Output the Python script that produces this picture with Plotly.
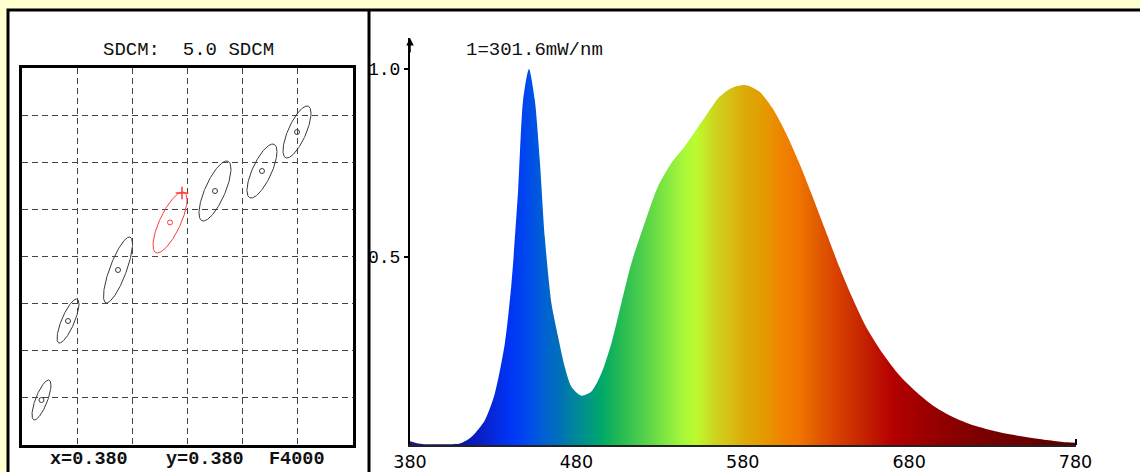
import numpy as np
import plotly.graph_objects as go

# ---------------- spectrum (relative spectral power) ----------------
wavelength_nm = [380, 385, 390, 400, 410, 417, 425, 431, 437, 441, 445, 448, 451.5, 455,
                 458, 461, 465, 469, 473, 477, 483, 489, 495, 501, 507, 513, 521, 529,
                 537, 545, 557, 566, 574, 582, 590, 598, 606, 614, 622, 630, 638, 646,
                 654, 664, 674, 684, 694, 706, 718, 735, 755, 775, 780]
relative_power = [0.010, 0.004, 0.002, 0.002, 0.004, 0.022, 0.066, 0.137, 0.270, 0.430,
                  0.678, 0.918, 1.000, 0.918, 0.758, 0.554, 0.377, 0.288, 0.208, 0.155,
                  0.131, 0.142, 0.190, 0.270, 0.377, 0.483, 0.590, 0.687, 0.749, 0.793,
                  0.870, 0.926, 0.951, 0.957, 0.940, 0.895, 0.829, 0.749, 0.660, 0.567,
                  0.474, 0.390, 0.315, 0.244, 0.186, 0.142, 0.106, 0.075, 0.053, 0.033,
                  0.018, 0.007, 0.006]

x_tick_vals = [380, 480, 580, 680, 780]
x_tick_text = ["380", "480", "580", "680", "780"]
y_tick_vals = [0.5, 1.0]
y_tick_text = ["0.5", "1.0"]

# spectral colour stops (wavelength -> colour), style for the fill gradient
color_wl = [380, 400, 420, 440, 450, 460, 470, 480, 488, 495, 505, 515, 525, 535, 545,
            552, 562, 572, 582, 592, 604, 614, 624, 634, 646, 658, 670, 682, 700, 730, 780]
color_hex = ["#1a1a80", "#0a1090", "#0a1cc0", "#0034f6", "#0048ee", "#0060d4", "#0070b8",
             "#008898", "#009882", "#00a86a", "#20b854", "#40c850", "#62d846", "#86ea40",
             "#aaf838", "#bcfb30", "#ccd820", "#d6c014", "#dcaa06", "#e49c00", "#f08200",
             "#f07400", "#e25e00", "#dc4600", "#cc3000", "#c01800", "#b40000", "#a60000",
             "#900000", "#760000", "#5a0000"]

# ---------------- SDCM ellipses (chromaticity) ----------------
ellipse_cx = [0.35353, 0.35834, 0.36740, 0.37683, 0.38498, 0.39350, 0.39985]
ellipse_cy = [0.34955, 0.36631, 0.37714, 0.38722, 0.39390, 0.39814, 0.40642]
ellipse_dx = [0.00172, 0.00199, 0.00263, 0.00308, 0.00290, 0.00272, 0.00254]
ellipse_dy = [0.00424, 0.00467, 0.00700, 0.00647, 0.00637, 0.00573, 0.00552]
ellipse_phase_deg = [42, 39, 38, 42, 43, 44, 44]
ellipse_is_reference = [False, False, False, True, False, False, False]
test_x = [0.37900]
test_y = [0.39347]

W, H = 1140, 472
fig = go.Figure()

# ellipses and their centres
t = np.linspace(0, 2 * np.pi, 181)
for cx, cy, dx, dy, ph, ref in zip(ellipse_cx, ellipse_cy, ellipse_dx, ellipse_dy,
                                   ellipse_phase_deg, ellipse_is_reference):
    col = "#ff3a3a" if ref else "#3a3a3a"
    fig.add_trace(go.Scatter(x=cx + dx * np.cos(t), y=cy + dy * np.cos(t - np.radians(ph)),
                             mode="lines", line=dict(color=col, width=1),
                             xaxis="x", yaxis="y", hoverinfo="skip"))
    fig.add_trace(go.Scatter(x=[cx], y=[cy], mode="markers",
                             marker=dict(symbol="circle-open", size=5, color=col,
                                         line=dict(width=1, color=col)),
                             xaxis="x", yaxis="y"))
fig.add_trace(go.Scatter(x=test_x, y=test_y, mode="markers",
                         marker=dict(symbol="cross-thin", size=9,
                                     line=dict(width=1.5, color="#ff3a3a")),
                         xaxis="x", yaxis="y"))

# spectrum
colorscale = [[(w - 380) / 400.0, c] for w, c in zip(color_wl, color_hex)]
fig.add_trace(go.Scatter(x=wavelength_nm, y=relative_power, mode="lines",
                         line=dict(width=0.5, color="rgba(0,0,0,0)", shape="spline", smoothing=0.7),
                         fill="tozeroy",
                         fillgradient=dict(type="horizontal", colorscale=colorscale,
                                           start=380, stop=780),
                         xaxis="x2", yaxis="y2"))

px = lambda v: v / W
py = lambda v: 1 - v / H

grid_common = dict(showgrid=True, gridcolor="#444444", gridwidth=1, griddash="6px,4px",
                   showline=True, mirror=True, linecolor="black", linewidth=2.5,
                   showticklabels=False, ticks="", zeroline=False, fixedrange=True,
                   automargin=False)

fig.update_layout(
    template="none",
    width=W, height=H, autosize=False,
    margin=dict(l=0, r=0, t=0, b=0, pad=0, autoexpand=False),
    paper_bgcolor="#ffffd0", plot_bgcolor="white", showlegend=False,
    xaxis=dict(domain=[px(22), px(353)], range=[0.35, 0.41], tick0=0.35, dtick=0.01,
               anchor="y", **grid_common),
    yaxis=dict(domain=[py(445), py(68)], range=[0.34, 0.42], tick0=0.34, dtick=0.01,
               anchor="x", **grid_common),
    xaxis2=dict(domain=[px(410), px(1075.5)], range=[380, 780], anchor="y2",
                tickmode="array", tickvals=x_tick_vals, ticktext=x_tick_text, ticks="",
                tickfont=dict(family="DejaVu Sans", size=17.5, color="black"),
                showline=True, linecolor="#222222", linewidth=1.5, showgrid=False,
                zeroline=False, fixedrange=True, automargin=False,
                minor=dict(tickmode="array", tickvals=[780], ticks="inside", ticklen=6,
                           tickwidth=1.5, tickcolor="black", showgrid=False)),
    yaxis2=dict(domain=[py(445), py(38)], range=[0, 1.0824], anchor="x2",
                tickmode="array", tickvals=y_tick_vals, ticktext=y_tick_text,
                ticks="outside", ticklen=4, tickwidth=2, tickcolor="black",
                tickfont=dict(family="Liberation Mono", size=18, color="black"),
                showline=True, linecolor="black", linewidth=2, showgrid=False,
                zeroline=False, fixedrange=True, automargin=False),
)

# frame
fig.add_shape(type="rect", xref="paper", yref="paper", x0=px(8), x1=1.05, y0=-0.05, y1=py(10),
              fillcolor="white", line=dict(color="black", width=3), layer="below")
fig.add_shape(type="line", xref="paper", yref="paper", x0=px(369), x1=px(369), y0=-0.05, y1=py(10),
              line=dict(color="black", width=3))

mono = "Liberation Mono"
def label(x, y, text, size=19, xanchor="center"):
    fig.add_annotation(x=px(x), y=py(y), xref="paper", yref="paper", showarrow=False,
                       xanchor=xanchor, yanchor="middle", text=text,
                       font=dict(family=mono, size=size, color="#111111"))

label(188, 50, "SDCM:  5.0 SDCM")
label(89, 459, "<b>x=0.380</b>", 18.5)
label(204.5, 459, "<b>y=0.380</b>", 18.5)
label(297, 459, "<b>F4000</b>", 18.5)
label(464, 50, "1=301.6mW/nm", 19, "left")
# arrow head on the spectrum's vertical axis
fig.add_annotation(x=380, y=1.0824, xref="x2", yref="y2", text="", showarrow=True,
                   ax=0, ay=16, arrowhead=2, arrowsize=1, arrowwidth=1.5, arrowcolor="black")

fig.write_html("out.html", config={"responsive": False, "displayModeBar": False},
               post_script="document.body.style.margin='0';document.body.style.overflow='hidden';")
